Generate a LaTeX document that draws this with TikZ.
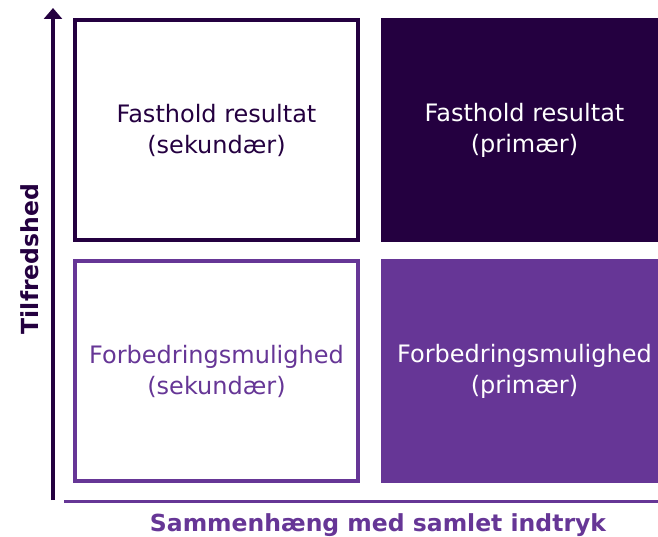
\documentclass[tikz,border=0pt]{standalone}
\usepackage{fontspec}
\setmainfont{DejaVu Sans}
\usetikzlibrary{arrows.meta,positioning}
\definecolor{dark}{RGB}{36,0,64}
\definecolor{lilla}{RGB}{102,54,150}
\begin{document}
\begin{tikzpicture}[x=1pt, y=-1pt,
        box/.style = {rectangle, line width=4pt, inner sep=0pt, align=center,
                      minimum width=283pt, minimum height=220pt,
                      font=\fontsize{24}{31}\selectfont},
        axislabel/.style = {inner sep=0pt, font=\bfseries\fontsize{23.5}{28}\selectfont}]
        \useasboundingbox (0,0) rectangle (658,537);
        \node[box, draw=dark, text=dark] (fastsek) at (216.5,130) {Fasthold resultat\\(sekundær)};
        \node[box, draw=dark, fill=dark, text=white] (fastprim) [right=21pt of fastsek] {Fasthold resultat\\(primær)};
        \node[box, draw=lilla, text=lilla] (forbsek) [below=17pt of fastsek] {Forbedringsmulighed\\(sekundær)};
        \node[box, draw=lilla, fill=lilla, text=white] (forbprim) [below=17pt of fastprim] {Forbedringsmulighed\\(primær)};
        % akser
        \coordinate (ybund) at (53,500);
        \coordinate (ytop) at (53,8);
        \coordinate (xstart) at (64,501);
        \coordinate (xslut) at (670,501);
        \draw[dark, line width=3.5pt, -{Triangle[width=18pt,length=11pt]}] (ybund) -- (ytop);
        \draw[lilla, line width=3pt] (xstart) -- (xslut);
        \node[axislabel, text=lilla, anchor=base] (xlabel) at (378,531.5) {Sammenhæng med samlet indtryk};
        \node[axislabel, text=dark, rotate=90] (ylabel) at (30,259) {Tilfredshed};
    \end{tikzpicture}
\end{document}
